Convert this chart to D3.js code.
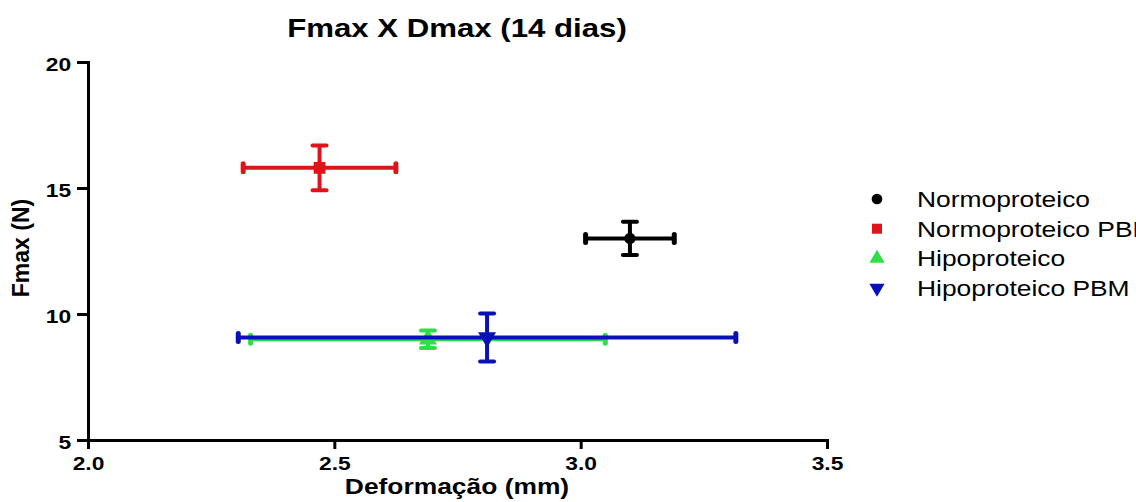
<!DOCTYPE html>
<html>
<head>
<meta charset="utf-8">
<script src="https://cdn.jsdelivr.net/npm/d3@7"></script>
<style>
  body { margin: 0; background: #fff; }
  svg { display: block; font-family: "Liberation Sans", Arial, sans-serif; }
  .axis path, .axis line { stroke: #000; stroke-width: 3; }
  .axis text { font-size: 19px; font-weight: bold; fill: #000; }
</style>
</head>
<body>
<svg class="chart"></svg>
<script>
// data
var groups = ["Normoproteico", "Normoproteico PBM", "Hipoproteico", "Hipoproteico PBM"];
var xMean = [3.10, 2.47, 2.69, 2.81];
var xErr  = [0.09, 0.155, 0.36, 0.505];
var yMean = [13.0, 15.8, 9.0, 9.07];
var yErr  = [0.66, 0.89, 0.35, 0.95];
var xTicks = [2.0, 2.5, 3.0, 3.5];
var yTicks = [5, 10, 15, 20];
var colors = ["#000000", "#e0121a", "#2ee045", "#0a10b8"];
var shapes = [d3.symbolCircle, d3.symbolSquare, d3.symbolTriangle, d3.symbolTriangle];

function renderChart() {
    var width = 1136, height = 502;
    var stretch = 1.2; // the picture's text is a bit wide

    var x = d3.scaleLinear().domain([2.0, 3.5]).range([88, 827]);
    var y = d3.scaleLinear().domain([5, 20]).range([440, 62]);

    var chart = d3.select('.chart')
        .attr('width', width)
        .attr('height', height);

    // title
    chart.append('text')
        .attr('transform', 'translate(457,37) scale(' + stretch + ',1)')
        .attr('text-anchor', 'middle')
        .style('font-size', '26px')
        .style('font-weight', 'bold')
        .text('Fmax X Dmax (14 dias)');

    // axes
    var xAxis = d3.axisBottom(x).tickValues(xTicks).tickFormat(d3.format('.1f'))
        .tickSizeInner(9).tickSizeOuter(0).tickPadding(8);
    var gx = chart.append('g').attr('class', 'axis')
        .attr('transform', 'translate(0,440)')
        .call(xAxis);
    gx.selectAll('text').attr('transform', 'scale(' + stretch + ',1)');

    var yAxis = d3.axisLeft(y).tickValues(yTicks).tickFormat(d3.format('d'))
        .tickSizeInner(11).tickSizeOuter(0).tickPadding(3);
    var gy = chart.append('g').attr('class', 'axis')
        .attr('transform', 'translate(88,0)')
        .call(yAxis);
    gy.selectAll('text').attr('transform', 'scale(' + stretch + ',1)')
        .attr('dy', '0.45em');
    gx.select('.domain').attr('stroke-linecap', 'square');
    gy.select('.domain').attr('stroke-linecap', 'square');

    // axis titles
    chart.append('text')
        .attr('transform', 'translate(457,494) scale(' + stretch + ',1)')
        .attr('text-anchor', 'middle')
        .style('font-size', '22px')
        .style('font-weight', 'bold')
        .text('Deformação (mm)');

    chart.append('text')
        .attr('transform', 'translate(29,248) rotate(-90)')
        .attr('text-anchor', 'middle')
        .style('font-size', '23px')
        .style('font-weight', 'bold')
        .text('Fmax (N)');

    // error bars and points
    var idx = d3.range(groups.length);
    var pts = chart.append('g').selectAll('g')
        .data(idx)
        .enter()
        .append('g')
        .attr('stroke', function(i) { return colors[i]; })
        .attr('fill', function(i) { return colors[i]; });

    // horizontal bars
    pts.append('line')
        .attr('x1', function(i) { return x(xMean[i] - xErr[i]); })
        .attr('x2', function(i) { return x(xMean[i] + xErr[i]); })
        .attr('y1', function(i) { return y(yMean[i]); })
        .attr('y2', function(i) { return y(yMean[i]); })
        .attr('stroke-width', 4);
    [-1, 1].forEach(function(s) {
        pts.append('line')
            .attr('x1', function(i) { return x(xMean[i] + s * xErr[i]); })
            .attr('x2', function(i) { return x(xMean[i] + s * xErr[i]); })
            .attr('y1', function(i) { return y(yMean[i]) - 4; })
            .attr('y2', function(i) { return y(yMean[i]) + 4; })
            .attr('stroke-width', 5)
            .attr('stroke-linecap', 'round');
    });

    // vertical bars
    pts.append('line')
        .attr('x1', function(i) { return x(xMean[i]); })
        .attr('x2', function(i) { return x(xMean[i]); })
        .attr('y1', function(i) { return y(yMean[i] - yErr[i]); })
        .attr('y2', function(i) { return y(yMean[i] + yErr[i]); })
        .attr('stroke-width', 4);
    [-1, 1].forEach(function(s) {
        pts.append('line')
            .attr('x1', function(i) { return x(xMean[i]) - 7; })
            .attr('x2', function(i) { return x(xMean[i]) + 7; })
            .attr('y1', function(i) { return y(yMean[i] + s * yErr[i]); })
            .attr('y2', function(i) { return y(yMean[i] + s * yErr[i]); })
            .attr('stroke-width', 4)
            .attr('stroke-linecap', 'round');
    });

    // markers
    pts.append('path')
        .attr('stroke', 'none')
        .attr('d', function(i) { return d3.symbol().type(shapes[i]).size(i === 0 ? 100 : 140)(); })
        .attr('transform', function(i) {
            return 'translate(' + x(xMean[i]) + ',' + y(yMean[i]) + ')' + (i === 3 ? ' rotate(180)' : '');
        });

    // legend
    var legend = chart.append('g').selectAll('g')
        .data(idx)
        .enter()
        .append('g')
        .attr('transform', function(i) { return 'translate(877,' + (199 + i * 29.7) + ')'; });
    legend.append('path')
        .attr('fill', function(i) { return colors[i]; })
        .attr('d', function(i) { return d3.symbol().type(shapes[i]).size(i === 0 ? 90 : 100)(); })
        .attr('transform', function(i) { return i === 3 ? 'rotate(180)' : ''; });
    legend.append('text')
        .attr('transform', 'translate(40,8) scale(' + stretch + ',1)')
        .style('font-size', '22px')
        .text(function(i) { return groups[i]; });
}

renderChart();
</script>
</body>
</html>
